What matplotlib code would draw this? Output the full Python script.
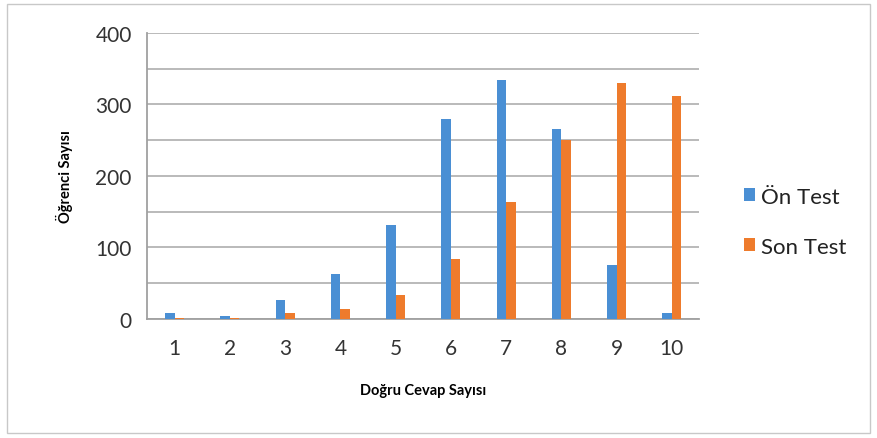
import numpy as np
import matplotlib
matplotlib.use("Agg")
from matplotlib import pyplot
from matplotlib.patches import Rectangle

# DATA
categories = ['1', '2', '3', '4', '5', '6', '7', '8', '9', '10']
on_test = [8, 4, 27, 63, 132, 280, 334, 266, 75, 8]
son_test = [2, 1, 8, 14, 33, 84, 163, 250, 330, 311]
y_ticks = [0, 100, 200, 300, 400]

# COLOURS
BLUE = '#4a8fd4'
ORANGE = '#ee7b2c'
GRID = '#b4b4b4'

pyplot.rcParams['font.family'] = ['Lato', 'DejaVu Sans']

fig = pyplot.figure(figsize=(8.77, 4.39), dpi=100)
# outer chart border
fig.patches.append(Rectangle((0.008, 0.012), 0.984, 0.976, transform=fig.transFigure,
                             fill=False, edgecolor='#c8c8c8', lw=1))

ax = fig.add_axes([0.1676, 0.271, 0.630, 0.652])
x = np.arange(len(categories))
w = 0.17
ax.bar(x - w / 2, on_test, w, color=BLUE, label='Ön Test', zorder=3)
ax.bar(x + w / 2, son_test, w, color=ORANGE, label='Son Test', zorder=3)

ax.set_xlim(-0.5, len(categories) - 0.5)
ax.set_ylim(0, 400)
ax.set_yticks(y_ticks)
ax.set_yticks(np.arange(0, 401, 50), minor=True)
ax.set_xticks(x)
ax.set_xticklabels(categories)
ax.grid(axis='y', which='both', color=GRID, lw=1.3, zorder=0)
ax.tick_params(axis='both', which='both', length=0, labelsize=15, colors='#333333')
ax.tick_params(axis='x', pad=14)
ax.tick_params(axis='y', pad=11)
for s in ['top', 'right']:
    ax.spines[s].set_visible(False)
ax.spines['left'].set_color('#a0a0a0')
ax.spines['bottom'].set_color('#a0a0a0')
ax.spines['left'].set_linewidth(1.3)
ax.spines['bottom'].set_linewidth(1.3)

ax.set_xlabel('Doğru Cevap Sayısı', fontsize=10.5, fontweight='bold', labelpad=18)
ax.set_ylabel('Öğrenci Sayısı', fontsize=10.5, fontweight='bold', labelpad=16)

fig.legend(loc='center left', bbox_to_anchor=(0.825, 0.493), frameon=False,
           fontsize=16, handlelength=0.5, handleheight=0.5, handletextpad=0.3,
           labelspacing=1.35, labelcolor='#222222')

fig.savefig('out.png', dpi=100)
